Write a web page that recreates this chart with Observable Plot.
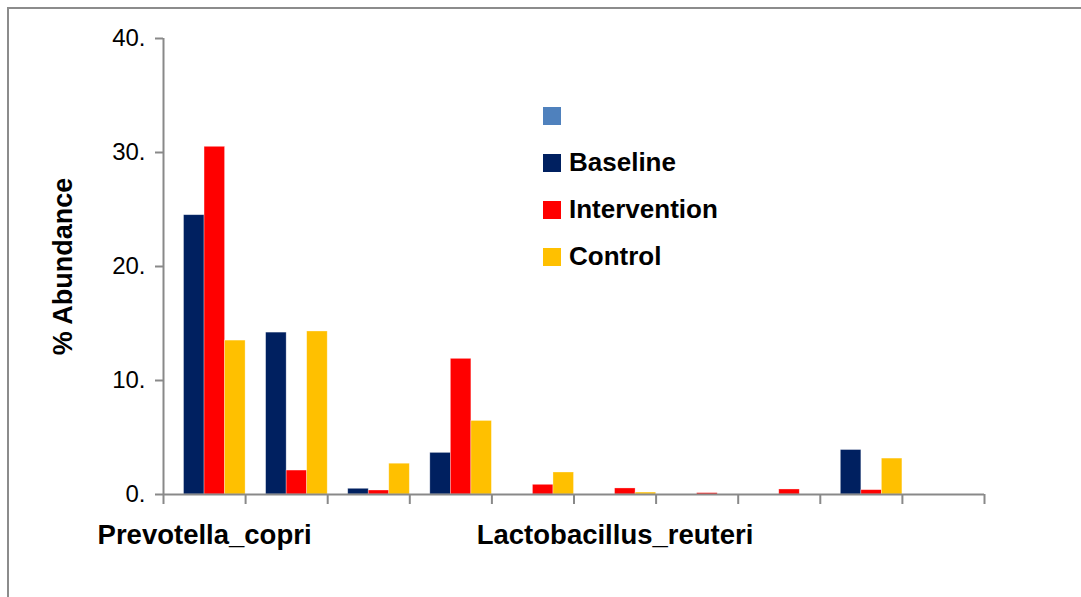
<!DOCTYPE html>
<html>
<head>
<meta charset="utf-8">
<script src="https://cdn.jsdelivr.net/npm/d3@7"></script>
<script src="https://cdn.jsdelivr.net/npm/@observablehq/plot@0.6"></script>
<style>
  html, body { margin: 0; padding: 0; background: #fff; }
  #wrap { position: relative; width: 1081px; height: 597px; overflow: hidden; font-family: "Liberation Sans", Arial, sans-serif; }
  #frame { position: absolute; left: 7px; top: 7px; width: 1200px; height: 700px; border: 2px solid #8c8c8c; box-sizing: border-box; }
  #chart { position: absolute; left: 0; top: 0; }
  #legend { position: absolute; left: 543px; top: 92px; font-weight: bold; font-size: 26px; color: #000; }
  .item { display: flex; align-items: center; height: 47px; }
  .sw { width: 18px; height: 18px; margin-right: 8px; }
</style>
</head>
<body>
<div id="wrap">
  <div id="frame"></div>
  <div id="chart"></div>
  <div id="legend"></div>
</div>
<script>
// ---- data ----
const categoryLabels = ["Prevotella_copri", "", "", "", "", "Lactobacillus_reuteri", "", "", "", ""];
const seriesNames = ["", "Baseline", "Intervention", "Control"];
const seriesColors = ["#4F81BD", "#002060", "#FF0000", "#FFC000"];
const blankSeries = [0, 0, 0, 0, 0, 0, 0, 0, 0, 0];
const baseline = [24.5, 14.2, 0.5, 3.65, 0, 0, 0, 0, 3.9, 0];
const intervention = [30.5, 2.1, 0.35, 11.9, 0.85, 0.53, 0.12, 0.44, 0.38, 0];
const control = [13.5, 14.3, 2.7, 6.45, 1.93, 0.17, 0, 0, 3.15, 0];
const yTicks = [0, 10, 20, 30, 40];
const yLabel = "% Abundance";

// ---- build table ----
const seriesValues = [blankSeries, baseline, intervention, control];
const nCat = categoryLabels.length;
const nSer = seriesNames.length;
const rows = [];
seriesValues.forEach((vals, s) => vals.forEach((v, i) => rows.push({cat: i, s, value: v})));
const bars = rows.filter(d => d.value > 0);
const boundaries = d3.range(nCat + 1);

const axisColor = "#898989";

const chart = Plot.plot({
  width: 1081,
  height: 597,
  marginLeft: 163,
  marginRight: 97,
  marginTop: 38,
  marginBottom: 103,
  style: {fontFamily: '"Liberation Sans", Arial, sans-serif', color: "#000", background: "transparent", overflow: "visible"},
  x: {type: "linear", domain: [0, nCat], axis: null},
  y: {domain: [0, 40], axis: null},
  marks: [
    Plot.rect(bars, {
      x1: d => d.cat + d.s / nSer,
      x2: d => d.cat + (d.s + 1) / nSer,
      y1: 0,
      y2: "value",
      fill: d => seriesColors[d.s],
      stroke: "#ffffff",
      strokeOpacity: 0.45,
      strokeWidth: 0.7
    }),
    Plot.axisY({ticks: yTicks, tickFormat: d => d + ".", tickSize: 8, tickPadding: 10, fontSize: 24, stroke: axisColor, strokeWidth: 2, label: null}),
    Plot.axisX({ticks: boundaries, tickFormat: () => "", tickSize: 10, tickPadding: 0, stroke: axisColor, strokeWidth: 2, label: null}),
    Plot.ruleX([0], {stroke: axisColor, strokeWidth: 2}),
    Plot.ruleY([0], {stroke: axisColor, strokeWidth: 2}),
    Plot.text(categoryLabels, {x: (d, i) => i + 0.5, y: 0, dy: 41, text: d => d, fontWeight: "bold", fontSize: 27.5, fill: "#000"}),
    Plot.text([yLabel], {x: 0, y: 20, dx: -100, text: d => d, rotate: -90, fontWeight: "bold", fontSize: 27, fill: "#000"})
  ]
});
document.getElementById("chart").appendChild(chart);

// ---- legend ----
const legend = document.getElementById("legend");
seriesNames.forEach((name, s) => {
  const item = document.createElement("div");
  item.className = "item";
  const sw = document.createElement("span");
  sw.className = "sw";
  sw.style.background = seriesColors[s];
  const label = document.createElement("span");
  label.textContent = name;
  item.appendChild(sw);
  item.appendChild(label);
  legend.appendChild(item);
});
</script>
</body>
</html>
